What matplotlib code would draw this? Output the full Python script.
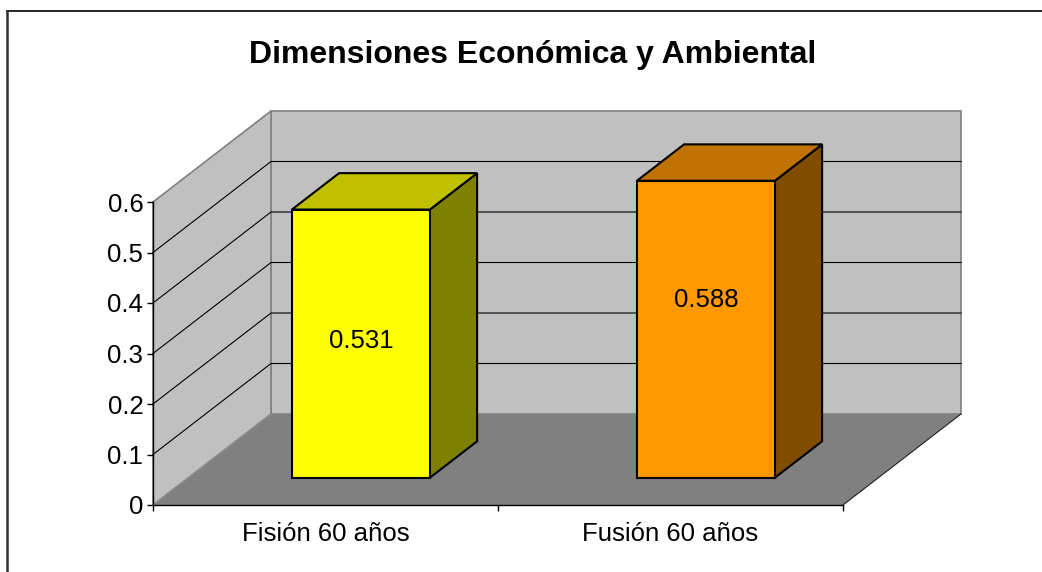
import matplotlib
matplotlib.use('Agg')
import matplotlib.pyplot as plt
from matplotlib.patches import Polygon
from matplotlib.lines import Line2D

plt.rcParams['font.family'] = ['Liberation Sans', 'DejaVu Sans']

categorias = ['Fisión 60 años', 'Fusión 60 años']
valores = [0.531, 0.588]
colores_frente = ['#FFFF00', '#FF9900']
colores_arriba = ['#C0C000', '#C07300']
colores_lado = ['#808000', '#804C00']
yticks = [0, 0.1, 0.2, 0.3, 0.4, 0.5, 0.6]

fig = plt.figure(figsize=(10.42, 5.72), dpi=100)
ax = fig.add_axes([153 / 1042, 67 / 572, 690 / 1042, 303 / 572])
ax.set_xlim(0, len(categorias))
ax.set_ylim(0, 0.6)

# profundidad del grafico 3D en unidades de datos
DX = 118 / 690 * len(categorias)
DY = 91 / 303 * 0.6
ymax = 0.6
n = len(categorias)

def poly(pts, fc, ec='none', lw=1.0, z=1):
    ax.add_patch(Polygon(pts, closed=True, facecolor=fc, edgecolor=ec,
                         linewidth=lw, clip_on=False, zorder=z))

# paredes y piso
poly([(DX, DY), (n + DX, DY), (n + DX, ymax + DY), (DX, ymax + DY)], '#C0C0C0', '#808080', 1.2, 1)
poly([(0, 0), (DX, DY), (DX, ymax + DY), (0, ymax)], '#C0C0C0', '#808080', 1.2, 1)
poly([(0, 0), (n, 0), (n + DX, DY), (DX, DY)], '#808080', 'none', 1.0, 2)
ax.plot([n, n + DX], [0, DY], color='#202020', lw=0.8, clip_on=False, zorder=2)
ax.plot([0, DX], [0, DY], color='#909090', lw=0.8, clip_on=False, zorder=2)

for v in yticks[1:-1]:
    ax.plot([0, DX, n + DX], [v, v + DY, v + DY], color='black', lw=0.8,
            clip_on=False, zorder=1.5)

# barras
w = 0.4
d0, d1 = 0.3, 0.7
pos_etiqueta = [0.51, 0.60]  # altura relativa de la etiqueta en la cara frontal
for i, v in enumerate(valores):
    x0 = i + 0.5 - w / 2 + d0 * DX
    x1 = x0 + w
    y0 = d0 * DY
    ddx = (d1 - d0) * DX
    ddy = (d1 - d0) * DY
    poly([(x1, y0), (x1 + ddx, y0 + ddy), (x1 + ddx, y0 + ddy + v), (x1, y0 + v)],
         colores_lado[i], 'black', 1.5, 3)
    poly([(x0, y0 + v), (x1, y0 + v), (x1 + ddx, y0 + v + ddy), (x0 + ddx, y0 + v + ddy)],
         colores_arriba[i], 'black', 1.5, 3)
    poly([(x0, y0), (x1, y0), (x1, y0 + v), (x0, y0 + v)],
         colores_frente[i], 'black', 1.5, 4)
    ax.text((x0 + x1) / 2, y0 + v * pos_etiqueta[i], f'{v:.3f}', ha='center',
            va='center', fontsize=18.5, zorder=5)

ax.set_facecolor('none')
for s in ['top', 'right']:
    ax.spines[s].set_visible(False)
for s in ['left', 'bottom']:
    ax.spines[s].set_linewidth(1.0)
    ax.spines[s].set_zorder(6)

ax.set_yticks(yticks)
ax.set_yticklabels(['0', '0.1', '0.2', '0.3', '0.4', '0.5', '0.6'])
ax.set_xticks(range(n + 1))
ax.set_xticklabels([])
ax.set_xticks([i + 0.5 for i in range(n)], minor=True)
ax.set_xticklabels(categorias, minor=True)
ax.tick_params(axis='y', length=4, width=1, pad=3, labelsize=18.5)
ax.tick_params(axis='x', which='major', length=4, width=1)
ax.tick_params(axis='x', which='minor', length=0, pad=12, labelsize=18.5)

fig.text(533 / 1042, 1 - 55 / 572, 'Dimensiones Económica y Ambiental',
         ha='center', va='center', fontsize=23, fontweight='bold')

# marco exterior
fig.add_artist(Line2D([7 / 1042, 1], [1 - 11 / 572, 1 - 11 / 572], color='black', lw=1.2))
fig.add_artist(Line2D([7 / 1042, 7 / 1042], [0, 1 - 11 / 572], color='#303030', lw=1.8))

fig.savefig('out.png', dpi=100)
